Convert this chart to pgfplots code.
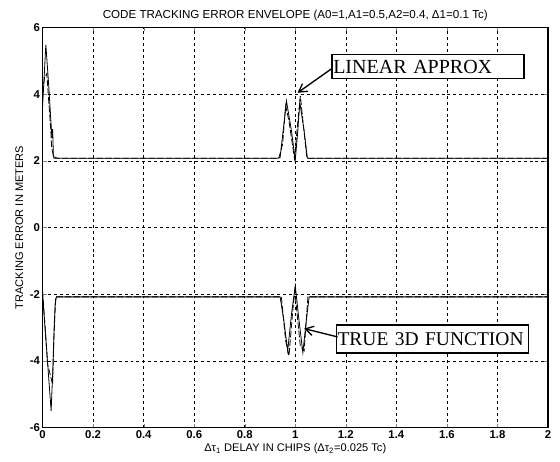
\documentclass[border=0pt]{standalone}
\usepackage{fontspec}
\setmainfont{Liberation Serif}
\setsansfont{Liberation Sans}
\usepackage{pgfplots}
\pgfplotsset{compat=1.18}
\usetikzlibrary{arrows.meta}
\begin{document}
\begin{tikzpicture}
\begin{axis}[
  scale only axis,
  width=379pt, height=300pt,
  xmin=0, xmax=2, ymin=-6, ymax=6,
  xtick={0,0.2,0.4,0.6,0.8,1,1.2,1.4,1.6,1.8,2},
  xticklabels={0,0.2,0.4,0.6,0.8,1,1.2,1.4,1.6,1.8,2},
  ytick={-6,-4,-2,0,2,4,6},
  yticklabels={-6,-4,-2,0,2,4,6},
  tick label style={font=\sffamily\bfseries\fontsize{8.5}{9}\selectfont},
  xticklabel style={yshift=1.5pt},
  yticklabel style={xshift=1.5pt},
  tick align=inside, major tick length=3pt,
  grid=major,
  major grid style={black, line width=0.4pt, dash pattern=on 2.2pt off 2.2pt},
  axis line style={black, line width=0.8pt},
  title={CODE TRACKING ERROR ENVELOPE (A0=1,A1=0.5,A2=0.4, Δ1=0.1 Tc)},
  title style={font=\sffamily\fontsize{8.7}{10}\selectfont, yshift=-4.5pt},
  xlabel={Δτ\textsubscript{1} DELAY IN CHIPS (Δτ\textsubscript{2}=0.025 Tc)},
  ylabel={TRACKING ERROR IN METERS},
  label style={font=\sffamily\fontsize{8.3}{10}\selectfont},
  xlabel style={yshift=3pt},
  ylabel style={yshift=-2pt},
]
% upper envelope, true 3D function
\addplot[black, line width=0.6pt] coordinates {
(0,3.6) (0.013,5.48) (0.025,4.2) (0.037,2.7) (0.040,2.95) (0.043,2.12) (0.06,2.08)
(0.93,2.08) (0.94,2.1) (0.952,2.9) (0.965,3.8) (0.985,2.9) (1.0,2.02) (1.01,2.9)
(1.018,3.75) (1.035,2.9) (1.048,2.08) (2,2.08)};
% upper envelope, linear approx
\addplot[black, line width=0.6pt, dash pattern=on 5pt off 1.5pt] coordinates {
(0,4.05) (0.008,4.5) (0.017,4.62) (0.022,4.05) (0.032,3.0) (0.036,2.4) (0.045,2.08)
(0.935,2.08) (0.95,2.5) (0.962,3.65) (0.975,3.2) (0.997,2.06) (1.008,3.0)
(1.02,3.95) (1.033,3.0) (1.046,2.08) (2,2.08)};
% lower envelope, true 3D function
\addplot[black, line width=0.6pt] coordinates {
(0,-2.0) (0.034,-5.5) (0.04,-4.4) (0.046,-3.0) (0.05,-2.3) (0.055,-2.08)
(0.94,-2.08) (0.955,-2.8) (0.97,-3.7) (0.985,-2.6) (1.0,-1.75) (1.015,-2.8)
(1.03,-3.75) (1.045,-2.7) (1.055,-2.08) (2,-2.08)};
% lower envelope, linear approx
\addplot[black, line width=0.6pt, dash pattern=on 5pt off 1.5pt] coordinates {
(0,-1.9) (0.015,-3.5) (0.02,-4.1) (0.04,-4.7) (0.045,-3.3) (0.052,-2.08)
(0.945,-2.08) (0.962,-3.4) (0.975,-3.85) (0.99,-2.5) (0.998,-1.9) (1.02,-3.55)
(1.035,-3.7) (1.05,-2.08) (2,-2.08)};
% annotations
\node[draw=black, line width=1pt, fill=white, inner sep=1pt, text width=142pt, align=left,
  minimum height=18pt, font=\fontsize{15}{17}\selectfont] (la) at (axis cs:1.525,4.82) {LINEAR APPROX};
\draw[line width=1pt, -{Straight Barb[length=6pt,width=7pt]}] (axis cs:1.147,4.78) -- (axis cs:1.009,4.04);
\node[draw=black, line width=1pt, fill=white, inner sep=1pt, text width=142pt, align=left,
  minimum height=21pt, font=\fontsize{14.6}{17}\selectfont] (tf) at (axis cs:1.542,-3.34) {TRUE 3D FUNCTION};
\draw[line width=1pt, -{Straight Barb[length=6pt,width=7pt]}] (axis cs:1.167,-3.28) -- (axis cs:1.035,-3.03);
\end{axis}
\pgfresetboundingbox
\path[use as bounding box] ([xshift=-31.9pt,yshift=-25.5pt]current axis.south west) rectangle ([xshift=9pt,yshift=20.6pt]current axis.north east);
\end{tikzpicture}
\end{document}
